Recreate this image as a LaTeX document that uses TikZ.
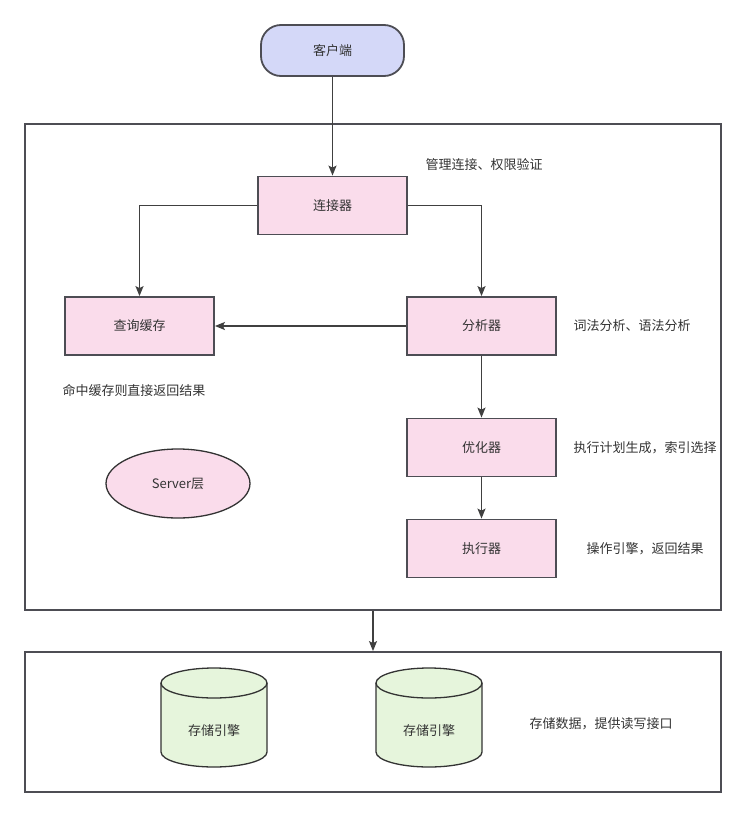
\documentclass[tikz,border=0pt]{standalone}
\usepackage{fontspec}
\newfontfamily\cjk{Noto Sans CJK SC}
\usetikzlibrary{shapes.geometric,arrows.meta}

\definecolor{edgegray}{RGB}{77,77,84}
\definecolor{pinkfill}{RGB}{250,220,235}
\definecolor{clientfill}{RGB}{212,216,248}
\definecolor{storefill}{RGB}{230,245,220}
\definecolor{txtgray}{RGB}{51,51,51}

\tikzset{
  every node/.style={font=\cjk\fontsize{13}{15}\selectfont, text=txtgray},
  box/.style={draw=edgegray, line width=1.8pt, fill=pinkfill, minimum width=149pt, minimum height=58pt, inner sep=0pt},
  layer/.style={draw=edgegray, line width=1.8pt, inner sep=0pt},
  note/.style={inner sep=0pt},
  cyl/.style={draw=black!80, line width=1.3pt, fill=storefill},
  flow/.style={draw=black!75, line width=1.6pt, -{Stealth[length=10pt,width=8pt,inset=2pt]}}
}

\begin{document}
\begin{tikzpicture}[x=1pt,y=-1pt]
    \useasboundingbox (0,0) rectangle (746,817);

    % the two layers
    \node[layer, minimum width=696pt, minimum height=486pt] (server) at (373,367) {};
    \node[layer, minimum width=696pt, minimum height=140pt] (engine) at (373,722) {};

    \node[draw=edgegray, line width=1.8pt, fill=clientfill, rounded corners=20pt, minimum width=143pt, minimum height=51pt] (client) at (332.5,50.5) {客户端};

    \node[box] (conn) at (332.5,205.5) {连接器};
    \node[box] (cache) at (139.5,326) {查询缓存};
    \node[box] (ana) at (481.5,326) {分析器};
    \node[box] (opt) at (481.5,447.5) {优化器};
    \node[box] (exec) at (481.5,548.5) {执行器};

    \node[ellipse, draw=black!80, line width=1.3pt, fill=pinkfill, minimum width=144pt, minimum height=69pt] (srv) at (178,483.5) {Server层};

    % storage engines
    \foreach \x/\n in {214/store1, 429/store2} {
        \draw[cyl] (\x-53,683) -- (\x-53,752)
            arc[start angle=180, end angle=360, x radius=53pt, y radius=15pt]
            -- (\x+53,683)
            arc[start angle=0, end angle=180, x radius=53pt, y radius=15pt] -- cycle;
        \draw[cyl, fill=none] (\x-53,683)
            arc[start angle=180, end angle=360, x radius=53pt, y radius=15pt];
        \node (\n) at (\x,731) {存储引擎};
    }

    % notes
    \node[note] (connnote) at (484,165) {管理连接、权限验证};
    \node[note] (cachenote) at (134,390) {命中缓存则直接返回结果};
    \node[note] (ananote) at (632,326) {词法分析、语法分析};
    \node[note] (optnote) at (645,447.5) {执行计划生成，索引选择};
    \node[note] (execnote) at (645,549) {操作引擎，返回结果};
    \node[note] (storenote) at (601,724) {存储数据，提供读写接口};

    % arrows
    \draw[flow] (client) -- (conn);
    \draw[flow] (conn.west) -| (cache.north);
    \draw[flow] (conn.east) -| (ana.north);
    \draw[flow] (ana.west) -- (cache.east);
    \draw[flow] (ana) -- (opt);
    \draw[flow] (opt) -- (exec);
    \draw[flow] (server.south) -- (engine.north);
\end{tikzpicture}
\end{document}
